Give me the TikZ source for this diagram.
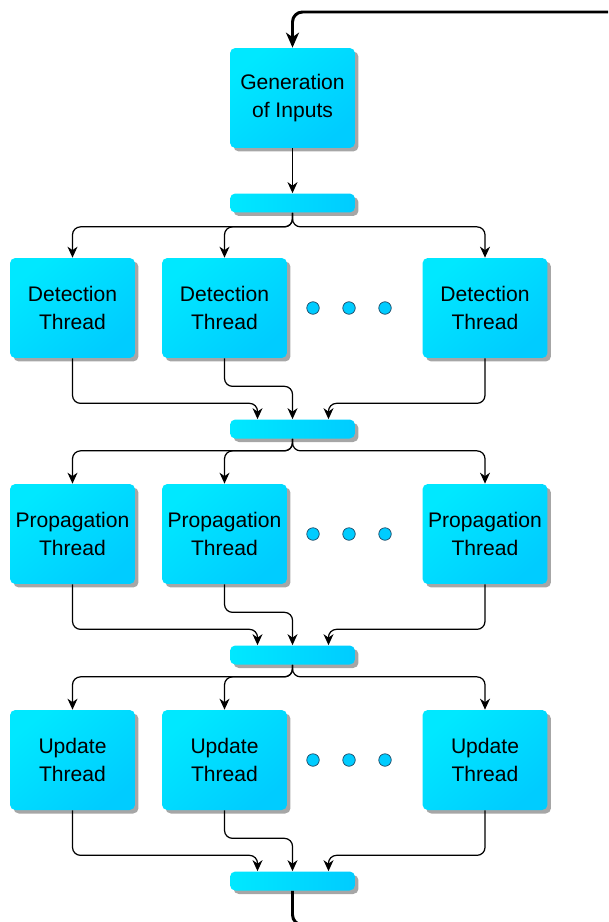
\documentclass[tikz,border=0pt]{standalone}
\usepackage{fontspec}
\setmainfont{Liberation Sans}
\usetikzlibrary{arrows.meta,shadows}
\definecolor{boxcyan}{RGB}{0,204,255}
\definecolor{boxglow}{RGB}{0,232,255}
\definecolor{dotrim}{RGB}{30,70,100}
\tikzset{
  thread/.style={rounded corners=3pt,minimum width=2.5cm,minimum height=2cm,inner sep=0pt,
    align=center,top color=boxglow,middle color=boxcyan,bottom color=boxcyan,shading angle=40,
    drop shadow={shadow xshift=0.07cm,shadow yshift=-0.07cm,opacity=0.35,fill=black},
    font=\fontsize{12}{15.5}\selectfont},
  syncbar/.style={rounded corners=3pt,minimum width=2.5cm,minimum height=0.38cm,inner sep=0pt,
    left color=boxglow,right color=boxcyan,
    drop shadow={shadow xshift=0.07cm,shadow yshift=-0.07cm,opacity=0.35,fill=black}},
  dot/.style={circle,draw=dotrim,fill=boxcyan,minimum size=0.25cm,inner sep=0pt},
  link/.style={draw,line width=0.7pt,rounded corners=0.16cm,
    -{Stealth[length=0.22cm,width=0.2cm,inset=0.07cm]}},
  loopback/.style={draw,line width=1.7pt,rounded corners=0.2cm,
    -{Stealth[length=0.3cm,width=0.26cm,inset=0.09cm]}}
}
\begin{document}
\begin{tikzpicture}[x=0.02cm,y=-0.02cm]
\useasboundingbox (0,0) rectangle (608,922);
\clip (0,0) rectangle (608,922);
% input stage and barriers
\node(gen) at (292.5,98)[thread] {Generation\\of Inputs};
\node(bar1) at (292.5,203)[syncbar] {};
\node(bar2) at (292.5,429)[syncbar] {};
\node(bar3) at (292.5,655)[syncbar] {};
\node(bar4) at (292.5,881)[syncbar] {};
% detection threads
\node(det1) at (72.5,308)[thread] {Detection\\Thread};
\node(det2) at (224.5,308)[thread] {Detection\\Thread};
\node(det3) at (485,308)[thread] {Detection\\Thread};
\node(dd1) at (313,308)[dot] {};
\node(dd2) at (349,308)[dot] {};
\node(dd3) at (385,308)[dot] {};
% propagation threads
\node(prop1) at (72.5,534)[thread] {Propagation\\Thread};
\node(prop2) at (224.5,534)[thread] {Propagation\\Thread};
\node(prop3) at (485,534)[thread] {Propagation\\Thread};
\node(pd1) at (313,534)[dot] {};
\node(pd2) at (349,534)[dot] {};
\node(pd3) at (385,534)[dot] {};
% update threads
\node(upd1) at (72.5,760)[thread] {Update\\Thread};
\node(upd2) at (224.5,760)[thread] {Update\\Thread};
\node(upd3) at (485,760)[thread] {Update\\Thread};
\node(ud1) at (313,760)[dot] {};
\node(ud2) at (349,760)[dot] {};
\node(ud3) at (385,760)[dot] {};
\draw[link] (gen) -- (bar1);
% fork and join
\draw[link] (bar1.south) -- ++(0,14) -| (det1.north);
\draw[link] (bar1.south) -- ++(0,14) -| (det2.north);
\draw[link] (bar1.south) -- ++(0,14) -| (det3.north);
\draw[link] (det1.south) -- ++(0,45) -| ([xshift=-0.7cm]bar2.north);
\draw[link] (det2.south) -- ++(0,28) -| (bar2.north);
\draw[link] (det3.south) -- ++(0,45) -| ([xshift=0.72cm]bar2.north);
\draw[link] (bar2.south) -- ++(0,12) -| (prop1.north);
\draw[link] (bar2.south) -- ++(0,12) -| (prop2.north);
\draw[link] (bar2.south) -- ++(0,12) -| (prop3.north);
\draw[link] (prop1.south) -- ++(0,45) -| ([xshift=-0.7cm]bar3.north);
\draw[link] (prop2.south) -- ++(0,28) -| (bar3.north);
\draw[link] (prop3.south) -- ++(0,45) -| ([xshift=0.72cm]bar3.north);
\draw[link] (bar3.south) -- ++(0,12) -| (upd1.north);
\draw[link] (bar3.south) -- ++(0,12) -| (upd2.north);
\draw[link] (bar3.south) -- ++(0,12) -| (upd3.north);
\draw[link] (upd1.south) -- ++(0,45) -| ([xshift=-0.7cm]bar4.north);
\draw[link] (upd2.south) -- ++(0,28) -| (bar4.north);
\draw[link] (upd3.south) -- ++(0,45) -| ([xshift=0.72cm]bar4.north);
% back to the top
\coordinate(turn) at (640,12);
\draw[loopback] (bar4.south) -- ++(0,34) -| (turn) -| (gen.north);
\end{tikzpicture}
\end{document}
